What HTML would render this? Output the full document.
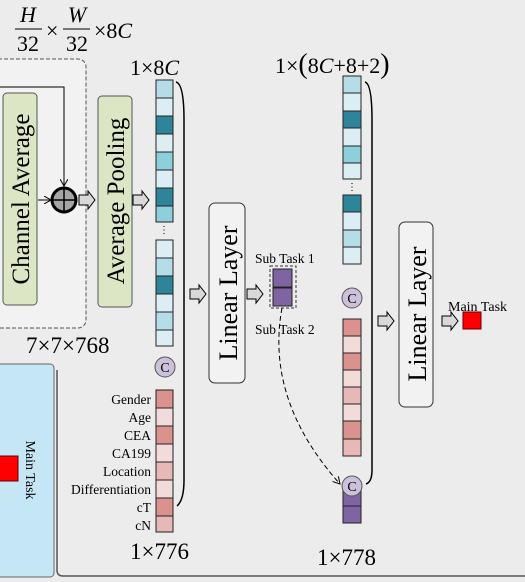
<!DOCTYPE html>
<html><head><meta charset="utf-8"><style>
html,body{margin:0;padding:0;background:#ececec}
svg{display:block;font-family:"Liberation Serif",serif}
</style></head><body>
<svg width="525" height="582" viewBox="0 0 525 582" xmlns="http://www.w3.org/2000/svg">
<defs>
<marker id="ah" markerWidth="8" markerHeight="8" refX="7" refY="4" orient="auto"><path d="M0,0 L7,4 L0,8" fill="none" stroke="#000" stroke-width="1"/></marker>
<g id="harrow"><path d="M0,-5 H9 V-9 L16,0 L9,9 V5 H0 Z" fill="#d9d9d9" stroke="#000" stroke-width="1"/></g>
</defs>
<rect width="525" height="582" fill="#ececec"/>
<path d="M57,370 V570 Q57,576 63,576 H525" fill="none" stroke="#555" stroke-width="1.5"/>
<rect x="-5" y="364" width="59" height="213" rx="4" fill="#c5e6f5" stroke="#666" stroke-width="1"/>
<rect x="-2" y="456" width="20" height="25" fill="#f00" stroke="#600"/>
<text transform="translate(26,470) rotate(90)" font-size="14" text-anchor="middle">Main Task</text>

<g font-size="22">
<text x="28" y="22" font-style="italic" text-anchor="middle">H</text>
<line x1="15" y1="29" x2="42" y2="29" stroke="#000"/>
<text x="28" y="51" text-anchor="middle">32</text>
<text x="46" y="38">×</text>
<text x="77" y="22" font-style="italic" text-anchor="middle">W</text>
<line x1="63" y1="29" x2="90" y2="29" stroke="#000"/>
<text x="77" y="51" text-anchor="middle">32</text>
<text x="94" y="38">×8<tspan font-style="italic">C</tspan></text>
</g>
<rect x="-10" y="59" width="96" height="269" rx="8" fill="#f2f2f2" stroke="#555" stroke-dasharray="4,2"/>
<rect x="3" y="93" width="34" height="212" rx="4" fill="#dce6c4" stroke="#555"/>
<text transform="translate(29,199) rotate(-90)" font-size="25" text-anchor="middle">Channel Average</text>
<path d="M0,87 H64 V186" fill="none" stroke="#000" marker-end="url(#ah)"/>
<line x1="38" y1="200" x2="51" y2="200" stroke="#000" marker-end="url(#ah)"/>
<circle cx="64" cy="200" r="12" fill="#a6a6a6" stroke="#000" stroke-width="3"/>
<line x1="53" y1="200" x2="75" y2="200" stroke="#000" stroke-width="1.5"/>
<line x1="64" y1="189" x2="64" y2="211" stroke="#000" stroke-width="1.5"/>
<use href="#harrow" x="79" y="200"/>
<rect x="98" y="96" width="34" height="211" rx="4" fill="#dce6c4" stroke="#555"/>
<text transform="translate(124,201) rotate(-90)" font-size="25" text-anchor="middle">Average Pooling</text>
<use href="#harrow" x="133" y="200"/>
<text x="26" y="353" font-size="23">7×7×768</text>

<text x="130" y="75" font-size="22">1×8<tspan font-style="italic">C</tspan></text>
<g stroke="#222" stroke-width="1">
<rect x="156" y="80" width="17" height="18" fill="#b5dde8"/>
<rect x="156" y="98" width="17" height="18" fill="#dceef3"/>
<rect x="156" y="116" width="17" height="18" fill="#2e8599"/>
<rect x="156" y="134" width="17" height="18" fill="#dceef3"/>
<rect x="156" y="152" width="17" height="18" fill="#8ecfdc"/>
<rect x="156" y="170" width="17" height="18" fill="#dceef3"/>
<rect x="156" y="188" width="17" height="18" fill="#2e8599"/>
<rect x="156" y="206" width="17" height="16" fill="#8ecfdc"/>
<rect x="156" y="240" width="17" height="18" fill="#dceef3"/>
<rect x="156" y="258" width="17" height="18" fill="#b5dde8"/>
<rect x="156" y="276" width="17" height="18" fill="#2e8599"/>
<rect x="156" y="294" width="17" height="18" fill="#dceef3"/>
<rect x="156" y="312" width="17" height="18" fill="#b5dde8"/>
<rect x="156" y="330" width="17" height="16" fill="#dceef3"/>
<rect x="156" y="390" width="17" height="18" fill="#d9928e"/>
<rect x="156" y="408" width="17" height="18" fill="#f2dcdb"/>
<rect x="156" y="426" width="17" height="18" fill="#d9928e"/>
<rect x="156" y="444" width="17" height="18" fill="#f2dcdb"/>
<rect x="156" y="462" width="17" height="18" fill="#e6b8b6"/>
<rect x="156" y="480" width="17" height="18" fill="#f2dcdb"/>
<rect x="156" y="498" width="17" height="18" fill="#d9928e"/>
<rect x="156" y="516" width="17" height="16" fill="#e6b8b6"/>
</g>
<text x="164" y="233" font-size="10" text-anchor="middle">⋮</text>
<circle cx="165" cy="367" r="10" fill="#ccc0da" stroke="#555"/>
<text x="165" y="372" font-size="14" text-anchor="middle">C</text>
<g font-size="13.5" text-anchor="end">
<text x="151" y="404">Gender</text>
<text x="151" y="422">Age</text>
<text x="151" y="440">CEA</text>
<text x="151" y="458">CA199</text>
<text x="151" y="476">Location</text>
<text x="151" y="494">Differentiation</text>
<text x="151" y="512">cT</text>
<text x="151" y="530">cN</text>
</g>
<text x="130" y="559" font-size="23">1×776</text>
<path d="M176,82 Q184,84 184,120 V480 Q184,500 177,506" fill="none" stroke="#000" stroke-width="1.5"/>

<use href="#harrow" x="190" y="294"/>
<rect x="209" y="203" width="36" height="180" rx="6" fill="#f2f2f2" stroke="#333"/>
<text transform="translate(237,293) rotate(-90)" font-size="26" text-anchor="middle">Linear Layer</text>
<use href="#harrow" x="247" y="294"/>

<text x="255" y="263" font-size="13.5">Sub Task 1</text>
<text x="255" y="334" font-size="13.5">Sub Task 2</text>
<rect x="270" y="266" width="26" height="42" fill="none" stroke="#333" stroke-dasharray="3,2"/>
<rect x="273" y="269" width="19" height="18" fill="#8064a2" stroke="#222"/>
<rect x="273" y="288" width="19" height="18" fill="#8064a2" stroke="#222"/>
<path d="M282,308 Q265,400 340,484" fill="none" stroke="#000" stroke-dasharray="5,3" marker-end="url(#ah)"/>

<text x="275" y="73" font-size="22">1×<tspan font-size="28">(</tspan>8<tspan font-style="italic">C</tspan>+8+2<tspan font-size="28">)</tspan></text>
<g stroke="#222" stroke-width="1">
<rect x="343" y="76" width="18" height="17" fill="#b5dde8"/>
<rect x="343" y="93" width="18" height="18" fill="#dceef3"/>
<rect x="343" y="111" width="18" height="17" fill="#2e8599"/>
<rect x="343" y="128" width="18" height="18" fill="#dceef3"/>
<rect x="343" y="146" width="18" height="17" fill="#8ecfdc"/>
<rect x="343" y="163" width="18" height="16" fill="#dceef3"/>
<rect x="343" y="195" width="18" height="17" fill="#2e8599"/>
<rect x="343" y="212" width="18" height="18" fill="#dceef3"/>
<rect x="343" y="230" width="18" height="17" fill="#b5dde8"/>
<rect x="343" y="247" width="18" height="17" fill="#dceef3"/>
<rect x="343" y="319" width="18" height="17" fill="#d9928e"/>
<rect x="343" y="336" width="18" height="17" fill="#f2dcdb"/>
<rect x="343" y="353" width="18" height="17" fill="#d9928e"/>
<rect x="343" y="370" width="18" height="17" fill="#f2dcdb"/>
<rect x="343" y="387" width="18" height="17" fill="#e6b8b6"/>
<rect x="343" y="404" width="18" height="17" fill="#f2dcdb"/>
<rect x="343" y="421" width="18" height="18" fill="#d9928e"/>
<rect x="343" y="439" width="18" height="17" fill="#e6b8b6"/>
<rect x="343" y="488" width="18" height="18" fill="#8064a2"/>
<rect x="343" y="506" width="18" height="17" fill="#8064a2"/>
</g>
<text x="352" y="190" font-size="10" text-anchor="middle">⋮</text>
<circle cx="352" cy="298" r="10" fill="#ccc0da" stroke="#555"/>
<text x="352" y="303" font-size="14" text-anchor="middle">C</text>
<circle cx="352" cy="486" r="10" fill="#ccc0da" stroke="#555"/>
<text x="352" y="491" font-size="14" text-anchor="middle">C</text>
<text x="317" y="565" font-size="23">1×778</text>
<path d="M365,82 Q372,84 372,120 V470 Q372,482 366,484" fill="none" stroke="#000" stroke-width="1.5"/>

<use href="#harrow" x="378" y="321"/>
<rect x="399" y="222" width="34" height="185" rx="6" fill="#f2f2f2" stroke="#333"/>
<text transform="translate(426,314) rotate(-90)" font-size="26" text-anchor="middle">Linear Layer</text>
<use href="#harrow" x="442" y="321"/>
<text x="448" y="311" font-size="14">Main Task</text>
<rect x="463" y="312" width="18" height="17" fill="#f00" stroke="#600"/>
</svg>
</body></html>
